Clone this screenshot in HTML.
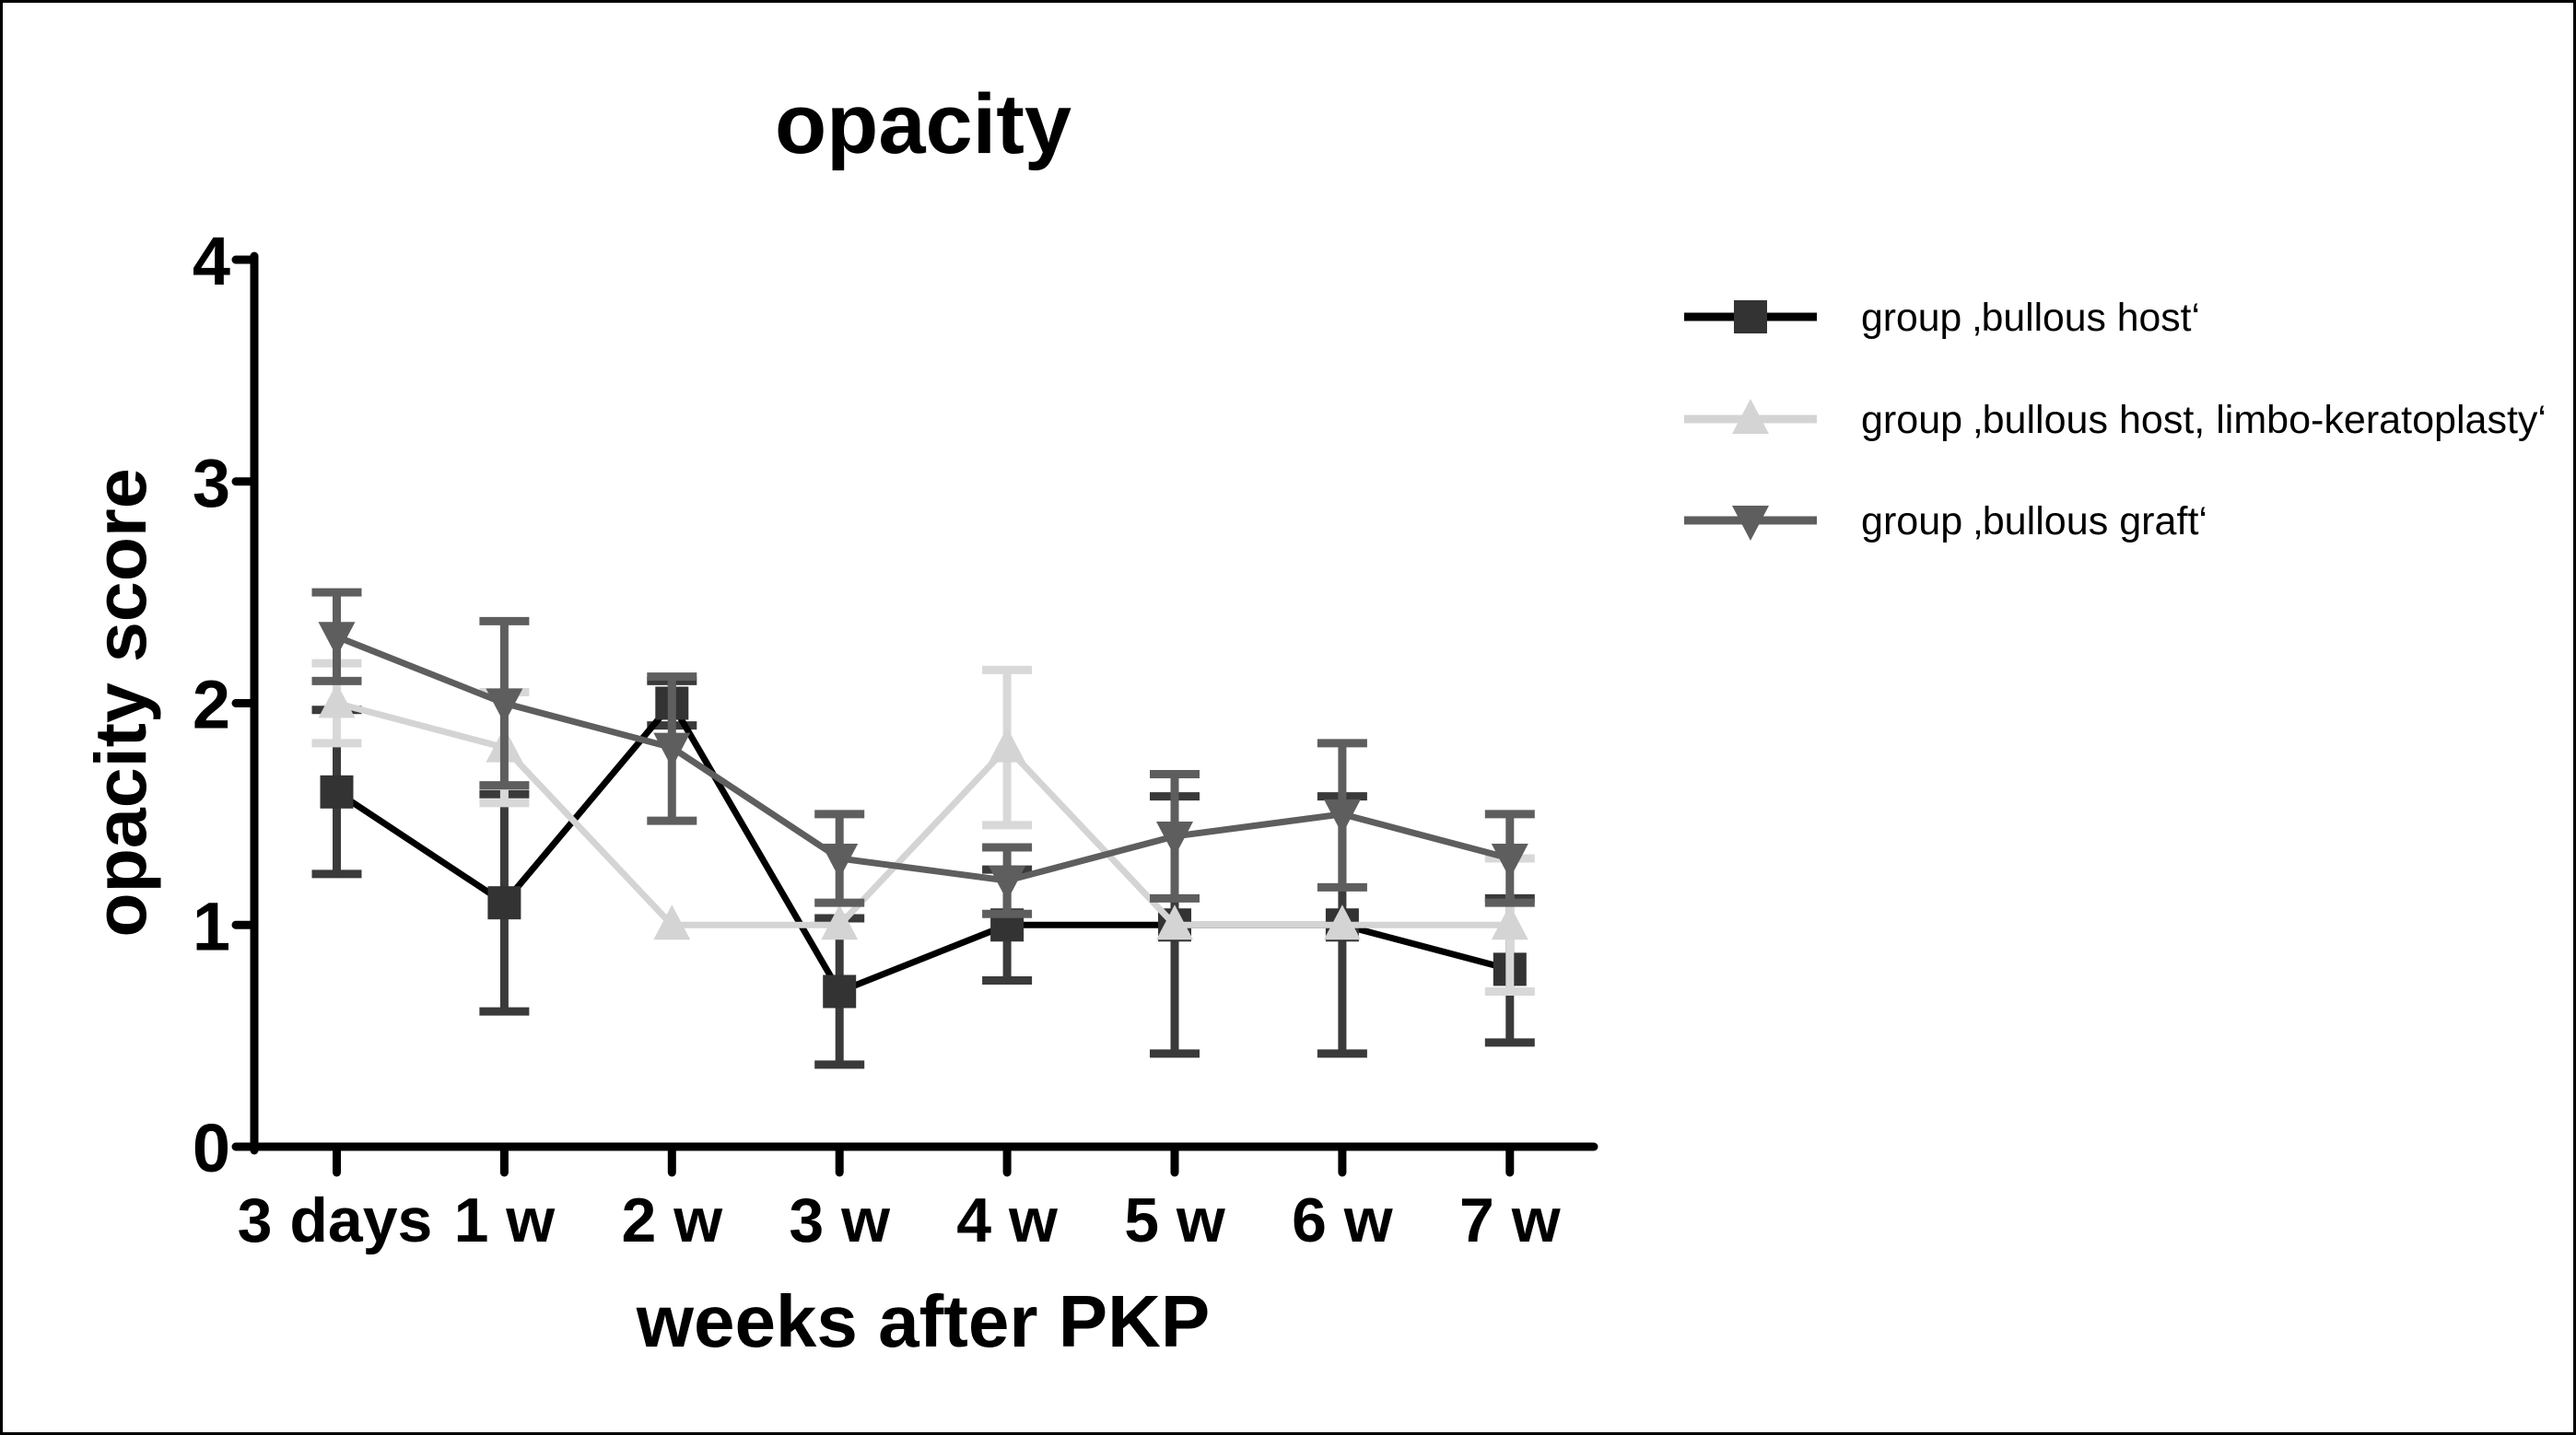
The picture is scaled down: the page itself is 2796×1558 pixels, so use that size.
<!DOCTYPE html>
<html><head><meta charset="utf-8"><style>
html,body{margin:0;padding:0;background:#fff}
svg{display:block}
text{font-family:"Liberation Sans",Arial,sans-serif}
</style></head><body>
<svg id="chart" width="2796" height="1558" viewBox="0 0 2796 1558" xmlns="http://www.w3.org/2000/svg">
<rect x="1.5" y="1.5" width="2793" height="1555" fill="#fff" stroke="#000" stroke-width="3"/>
<text x="1002" y="166" font-size="92" font-weight="bold" text-anchor="middle">opacity</text>
<text transform="translate(158,763) rotate(-90)" font-size="79" font-weight="bold" text-anchor="middle">opacity score</text>
<text x="1002" y="1462" font-size="80" font-weight="bold" text-anchor="middle">weeks after PKP</text>
<g id="plot"></g>
<g id="legend"></g>
</svg>
<script>
const categories = ["3 days","1 w","2 w","3 w","4 w","5 w","6 w","7 w"];
const yTicks = [0,1,2,3,4];
const hostMean = [1.6,1.1,2.0,0.7,1.0,1.0,1.0,0.8];
const hostLow  = [1.23,0.61,1.9,0.37,0.75,0.42,0.42,0.47];
const hostHigh = [1.97,1.59,2.1,1.03,1.25,1.58,1.58,1.12];
const limboMean = [2.0,1.8,1.0,1.0,1.8,1.0,1.0,1.0];
const limboLow  = [1.82,1.55,1.0,1.0,1.45,1.0,1.0,0.7];
const limboHigh = [2.18,2.05,1.0,1.0,2.15,1.0,1.0,1.3];
const graftMean = [2.3,2.0,1.8,1.3,1.2,1.4,1.5,1.3];
const graftLow  = [2.1,1.63,1.47,1.1,1.05,1.12,1.17,1.1];
const graftHigh = [2.5,2.37,2.12,1.5,1.35,1.68,1.82,1.5];
const seriesNames = ["group \u201abullous host\u2018","group \u201abullous host, limbo-keratoplasty\u2018","group \u201abullous graft\u2018"];

const NS="http://www.w3.org/2000/svg";
const X0=276, XEND=1730, Y0=1245, YTOP=282, XFIRST=365.5, XSTEP=181.9;
const xPos=i=>XFIRST+i*XSTEP;
const yPos=v=>Y0-(v/4)*(Y0-YTOP);
function mk(tag,attrs,parent){const e=document.createElementNS(NS,tag);for(const k in attrs)e.setAttribute(k,attrs[k]);parent.appendChild(e);return e;}
const plot=document.getElementById('plot');
const legend=document.getElementById('legend');

let ax=mk('line',{x1:X0,y1:YTOP-4,x2:X0,y2:Y0+4,stroke:'#000','stroke-width':9,'stroke-linecap':'round'},plot);


ax=mk('line',{x1:X0,y1:Y0,x2:XEND,y2:Y0,stroke:'#000','stroke-width':9,'stroke-linecap':'round'},plot);


yTicks.forEach(t=>{
  const l=mk('line',{x1:X0-20,y1:yPos(t),x2:X0,y2:yPos(t),stroke:'#000','stroke-width':9,'stroke-linecap':'round'},plot);
  
  
  const tx=mk('text',{x:X0-26,y:yPos(t)+27,'font-size':74,'font-weight':'bold','text-anchor':'end'},plot);
  tx.textContent=t;
  
  
});
categories.forEach((c,i)=>{
  const l=mk('line',{x1:xPos(i),y1:Y0,x2:xPos(i),y2:Y0+28,stroke:'#000','stroke-width':9,'stroke-linecap':'round'},plot);
  
  
  const tx=mk('text',{x:xPos(i)-(i===0?2:0),y:1348,'font-size':68,'font-weight':'bold','text-anchor':'middle'},plot);
  tx.textContent=c;
  
  
});

function marker(kind,x,y,color,parent){
  let m;
  if(kind==='square'){m=mk('rect',{x:x-18,y:y-18,width:36,height:36,fill:color},parent);}
  else if(kind==='up'){m=mk('polygon',{points:`${x},${y-22} ${x+20},${y+16} ${x-20},${y+16}`,fill:color},parent);}
  else {m=mk('polygon',{points:`${x-20},${y-16} ${x+20},${y-16} ${x},${y+22}`,fill:color},parent);}
  return m;
}
function drawSeries(name,mean,low,high,lineColor,markColor,errColor,kind){
  const g=mk('g',{},plot);
  
  
  mean.forEach((v,i)=>{
    if(high[i]-low[i]<0.01) return;
    const e=mk('path',{d:`M${xPos(i)},${yPos(low[i])}V${yPos(high[i])}M${xPos(i)-27},${yPos(low[i])}h54M${xPos(i)-27},${yPos(high[i])}h54`,stroke:errColor,'stroke-width':9,fill:'none'},g);
    
    
  });
  const pl=mk('polyline',{points:mean.map((v,i)=>xPos(i)+','+yPos(v)).join(' '),fill:'none',stroke:lineColor,'stroke-width':7,'stroke-linejoin':'miter'},g);
  
  
  mean.forEach((v,i)=>{
    const m=marker(kind,xPos(i),yPos(v),markColor,g);
    
    
  });
}
drawSeries('bullous-host',hostMean,hostLow,hostHigh,'#000','#333','#3a3a3a','square');
drawSeries('limbo-keratoplasty',limboMean,limboLow,limboHigh,'#d4d4d4','#d4d4d4','#d8d8d8','up');
drawSeries('bullous-graft',graftMean,graftLow,graftHigh,'#5e5e5e','#5e5e5e','#5e5e5e','down');

const legColors=[['#000','#333','square'],['#d4d4d4','#d4d4d4','up'],['#5e5e5e','#5e5e5e','down']];
const legY=[344,455,565];
const legLen=[368,744,376];
seriesNames.forEach((n,i)=>{
  const g=mk('g',{},legend);
  
  
  mk('line',{x1:1828,y1:legY[i],x2:1972,y2:legY[i],stroke:legColors[i][0],'stroke-width':9},g);
  marker(legColors[i][2],1900,legY[i],legColors[i][1],g);
  const t=mk('text',{x:2020,y:legY[i]+15,'font-size':43,textLength:legLen[i],lengthAdjust:'spacingAndGlyphs'},g);
  t.textContent=n;
  
  
});
</script>
</body></html>
